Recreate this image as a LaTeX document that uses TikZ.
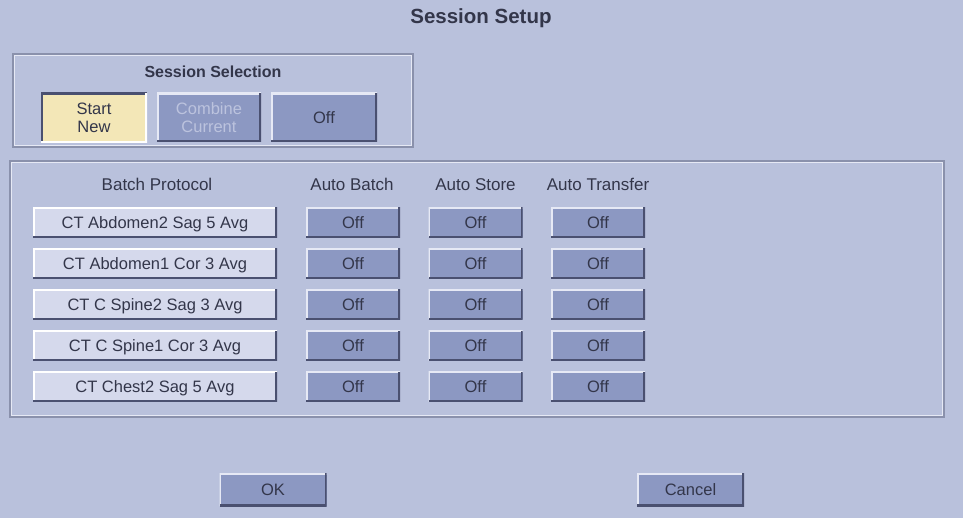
\documentclass[tikz,border=0pt]{standalone}
\usepackage{fontspec}
\setmainfont{Liberation Sans}
\usetikzlibrary{positioning}

\definecolor{panel}{HTML}{B9C1DC}
\definecolor{offfill}{HTML}{8C98C2}
\definecolor{protofill}{HTML}{D5D9EC}
\definecolor{startfill}{HTML}{F3E7B7}
\definecolor{edgedark}{HTML}{4A5070}
\definecolor{edgelite}{HTML}{E6E9F5}
\definecolor{framedark}{HTML}{8A91AC}
\definecolor{ink}{HTML}{33364A}
\definecolor{greyink}{HTML}{BCC3DE}

\tikzset{
  bevel/.style 2 args={path picture={
    \draw[#1, line width=3.4pt] (path picture bounding box.south west) -- (path picture bounding box.north west) -- (path picture bounding box.north east);
    \draw[#2, line width=3.4pt] (path picture bounding box.north east) -- (path picture bounding box.south east) -- (path picture bounding box.south west);}},
  btn/.style={inner sep=0pt, align=center, text=ink, font=\fontsize{16.5}{18}\selectfont},
  oneline/.style={text height=14pt, text depth=2pt},
  offbtn/.style={btn, oneline, fill=offfill, minimum width=94pt, minimum height=30pt, bevel={edgelite}{edgedark}},
  protobtn/.style={btn, oneline, fill=protofill, minimum width=244pt, minimum height=30pt, bevel={white}{edgedark}},
  selbtn/.style={btn, fill=offfill, minimum width=105pt, minimum height=49pt, bevel={edgelite}{edgedark}},
  header/.style={oneline, inner sep=0pt, text=ink, font=\fontsize{17}{18}\selectfont},
  frame/.style={draw=framedark, line width=1.2pt},
  framelite/.style={draw=edgelite, line width=0.8pt}
}

\begin{document}
\begin{tikzpicture}[x=1pt, y=-1pt]
  % Background
  \fill[panel] (0,0) rectangle (963,518);

  % Title
  \node[text=ink, font=\bfseries\fontsize{20.5}{22}\selectfont] (title) at (481,18) {Session Setup};

  % Session selection
  \draw[frame] (13,54) rectangle (413,147);
  \draw[framelite] (14.8,55.8) rectangle (411.2,145.2);
  \node[text=ink, font=\bfseries\fontsize{16}{18}\selectfont] (seltitle) at (213,72) {Session Selection};
  \node[selbtn, fill=startfill, minimum width=106pt, minimum height=50pt, bevel={edgedark}{white}] (startnew) at (94,118) {Start\\New};
  \node[selbtn, text=greyink, minimum width=104pt] (combine) at (209,117.5) {Combine\\Current};
  \node[selbtn, minimum width=106pt] (seloff) at (324,117.5) {Off};

  % Batch table
  \draw[frame] (10,161) rectangle (944,417);
  \draw[framelite] (11.8,162.8) rectangle (942.2,415.2);
  \node[header] (hproto) at (157,185) {Batch Protocol};
  \node[header] (hbatch) at (352,185) {Auto Batch};
  \node[header] (hstore) at (475.5,185) {Auto Store};
  \node[header] (htransfer) at (598,185) {Auto Transfer};

  \foreach \proto [count=\i] in {CT Abdomen2 Sag 5 Avg, CT Abdomen1 Cor 3 Avg, CT C Spine2 Sag 3 Avg, CT C Spine1 Cor 3 Avg, CT Chest2 Sag 5 Avg} {
    \node[protobtn] (proto\i) at (155,{181.5+41*\i}) {\proto};
    \node[offbtn] (batch\i) at (353,{181.5+41*\i}) {Off};
    \node[offbtn] (store\i) at (475.5,{181.5+41*\i}) {Off};
    \node[offbtn] (transfer\i) at (598,{181.5+41*\i}) {Off};
  }

  % Dialog buttons
  \node[offbtn, minimum width=107pt, minimum height=33pt] (ok) at (273,489.5) {OK};
  \node[offbtn, minimum width=107pt, minimum height=33pt] (cancel) at (690.5,489.5) {Cancel};
\end{tikzpicture}
\end{document}
